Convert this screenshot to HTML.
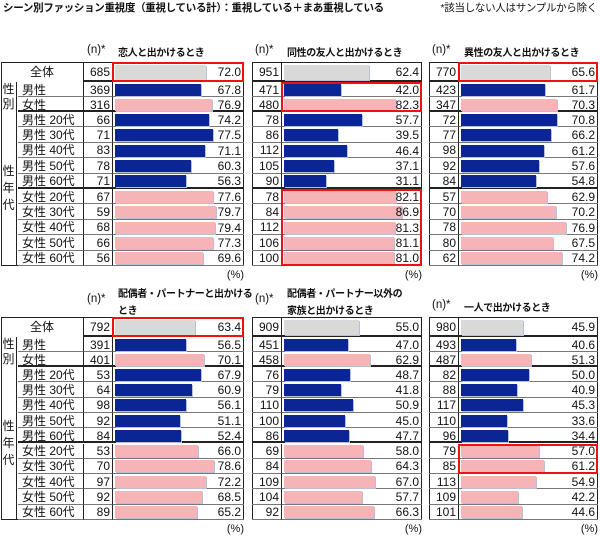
<!DOCTYPE html>
<html><head><meta charset="utf-8">
<style>
body{margin:0;width:600px;height:537px;background:#fff;position:relative;overflow:hidden;font-family:"Liberation Sans","Noto Sans CJK JP",sans-serif;color:#111}
.a{position:absolute;box-sizing:border-box}
.t{font-size:12px;line-height:1;white-space:nowrap}
</style></head><body>
<div class="a t" style="left:3px;top:3px;font-weight:bold;font-size:10.5px;letter-spacing:-0.3px">シーン別ファッション重視度（重視している計）：重視している＋まあ重視している</div>
<div class="a t" style="right:3px;top:3px;font-size:10.5px;letter-spacing:-0.3px">*該当しない人はサンプルから除く</div>
<div id="root"></div>
<script>
const rowLabels=["全体","男性","女性","男性 20代","男性 30代","男性 40代","男性 50代","男性 60代","女性 20代","女性 30代","女性 40代","女性 50代","女性 60代"];
const titles=["恋人と出かけるとき","同性の友人と出かけるとき","異性の友人と出かけるとき","配偶者・パートナーと出かける\nとき","配偶者・パートナー以外の\n家族と出かけるとき","一人で出かけるとき"];
const n1=[685,369,316,66,71,83,78,71,67,59,68,66,56];
const v1=[72.0,67.8,76.9,74.2,77.5,71.1,60.3,56.3,77.6,79.7,79.4,77.3,69.6];
const n2=[951,471,480,78,86,112,105,90,78,84,112,106,100];
const v2=[62.4,42.0,82.3,57.7,39.5,46.4,37.1,31.1,82.1,86.9,81.3,81.1,81.0];
const n3=[770,423,347,72,77,98,92,84,57,70,78,80,62];
const v3=[65.6,61.7,70.3,70.8,66.2,61.2,57.6,54.8,62.9,70.2,76.9,67.5,74.2];
const n4=[792,391,401,53,64,98,92,84,53,70,97,92,89];
const v4=[63.4,56.5,70.1,67.9,60.9,56.1,51.1,52.4,66.0,78.6,72.2,68.5,65.2];
const n5=[909,451,458,76,79,110,100,86,69,84,109,104,92];
const v5=[55.0,47.0,62.9,48.7,41.8,50.9,45.0,47.7,58.0,64.3,67.0,57.7,66.3];
const n6=[980,493,487,82,88,117,110,96,79,85,113,109,101];
const v6=[45.9,40.6,51.3,50.0,40.9,45.3,33.6,34.4,57.0,61.2,54.9,42.2,44.6];
const highlights=[[[0,0]],[[1,2],[8,12]],[[0,0]],[[0,0]],[],[[8,9]]];
const ns=[n1,n2,n3,n4,n5,n6], vs=[v1,v2,v3,v4,v5,v6];
const root=document.getElementById('root');
function mk(x,y,w,h,style,text){const d=document.createElement('div');d.className='a t';d.style.cssText=`left:${x}px;top:${y}px;width:${w}px;height:${h}px;`+(style||'');if(text!==undefined)d.textContent=text;root.appendChild(d);return d;}
const cols=[{L:1,N:84,B:113,R:244,s:1.265},{L:252,N:252,B:282,R:422,s:1.36},{L:429,N:429,B:459,R:598,s:1.36}];
const tops=[62,317], ends=[266,520];
function color(i){return i===0?'#d9d9d9':(i===2||i>=8)?'#f6b4b7':'#0a2594';}
for(let p=0;p<6;p++){
  const c=cols[p%3], top=tops[Math.floor(p/3)], end=ends[Math.floor(p/3)];
  const rh=(end-top-50)/10;
  const ys=[top,top+20,top+35,top+50];for(let k=1;k<=10;k++)ys.push(top+50+rh*k);
  const t=titles[p], two=t.includes('\n');
  let e=mk(c.N+3,top-(two?23:17),30,12,'font-size:11.5px','(n)*');
  
  e=mk(c.B+5,top-(two?31:17),140,36,'font-weight:bold;font-size:10px;letter-spacing:-0.4px;line-height:17px;white-space:pre',t);
  
  e=mk(c.R-30,end+4,30,12,'font-size:11px;text-align:right','(%)');
  
  e=mk(c.L,top,c.R-c.L,end-top,'border:1.5px solid #222');
  
  if(p%3===0){
    e=mk(c.L,top,c.N-c.L,20,'border-right:1px solid #222;text-align:center;padding-top:4px;','全体');
    
    e=mk(c.L,top+20,16,30,'border-right:1px solid #222;text-align:center;line-height:15px;white-space:pre','性\n別');
    
    e=mk(c.L,top+50,16,end-top-50,'border-right:1px solid #222;text-align:center;line-height:17px;white-space:pre;padding-top:'+((end-top-50)/2-26)+'px','性\n年\n代');
    
  }
  for(let i=0;i<13;i++){
    const y=ys[i],h=ys[i+1]-ys[i];
    const thick=(i===0||i===2||i===7);
    const bc=thick?'border-bottom:2px solid #222;':'border-bottom:1px solid #777;';
    if(p%3===0&&i>0){
      e=mk(c.L+17,y,c.N-c.L-17,h,bc+'border-right:1px solid #222;padding:'+(h/2-6)+'px 0 0 4px',rowLabels[i]);
      
    }
    e=mk(c.N,y,c.B-c.N,h,bc+'border-right:1.5px solid #222;text-align:right;padding:'+(h/2-6)+'px 2px 0 0',String(ns[p][i]));
    
    const rowBg=mk(c.B,y,c.R-c.B,h,bc);
    
    const bh=i===0?15:12;
    e=mk(c.B+2,y+(h-bh)/2,vs[p][i]*c.s,bh,'background:'+color(i)+';box-shadow:1px 1px 0 #b8c0d8');
    
    e=mk(c.R-40,y+h/2-6,37,12,'text-align:right',vs[p][i].toFixed(1));
    
  }
  for(const r of highlights[p]){
    e=mk(c.B-1,ys[r[0]],c.R-c.B+1,ys[r[1]+1]-ys[r[0]],'border:2px solid #ee1111');
    
  }
}
</script>
</body></html>
